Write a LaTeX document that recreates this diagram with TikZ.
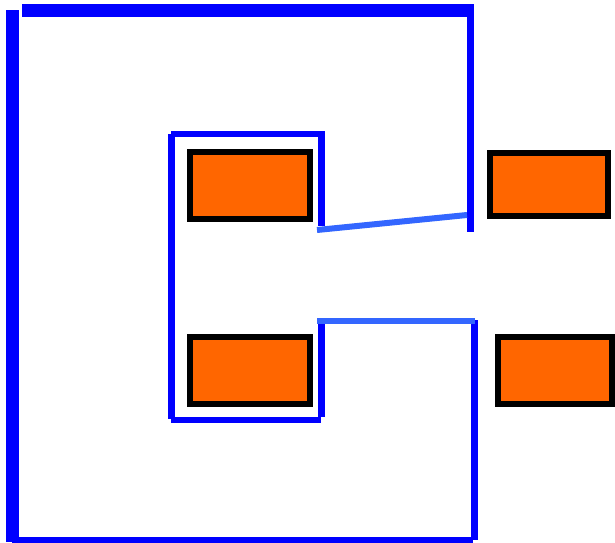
\documentclass[tikz,border=0pt]{standalone}
\definecolor{wallblue}{HTML}{0000FF}
\definecolor{lightwall}{HTML}{3366FF}
\definecolor{boxorange}{HTML}{FF6600}
\begin{document}
\begin{tikzpicture}[x=1pt,y=-1pt,
  wall/.style={draw=wallblue,line width=#1},
  wall/.default=7pt,
  lwall/.style={draw=lightwall,line width=6pt},
  obox/.style={draw=black,fill=boxorange,line width=6pt,rectangle,inner sep=0pt}]
\useasboundingbox (0,0) rectangle (615,542);
% outer frame
\draw[wall=13pt] (12.5,10) -- (12.5,542);
\draw[wall=13pt] (22,10.5) -- (474,10.5);
\draw[wall] (470.5,4) -- (470.5,232);
\draw[wall] (474,320) -- (474,540);
\draw[wall=6pt] (12,539.5) -- (473,539.5);
% inner frame
\draw[wall] (171.5,134) -- (171.5,419);
\draw[wall=6pt] (171,134) -- (324,134);
\draw[wall] (321,131) -- (321,226);
\draw[wall] (321,321) -- (321,417);
\draw[wall=6pt] (171,420) -- (321,420);
% light connectors
\draw[lwall] (317,230) -- (467,215);
\draw[lwall] (317,321) -- (475,321);
% boxes
\node[obox,minimum width=120pt,minimum height=67pt] (b1) at (250,185.5) {};
\node[obox,minimum width=118pt,minimum height=63pt] (b2) at (548.5,184.5) {};
\node[obox,minimum width=120pt,minimum height=67pt] (b3) at (250,370.5) {};
\node[obox,minimum width=114pt,minimum height=67pt] (b4) at (555,370.5) {};
\end{tikzpicture}
\end{document}
